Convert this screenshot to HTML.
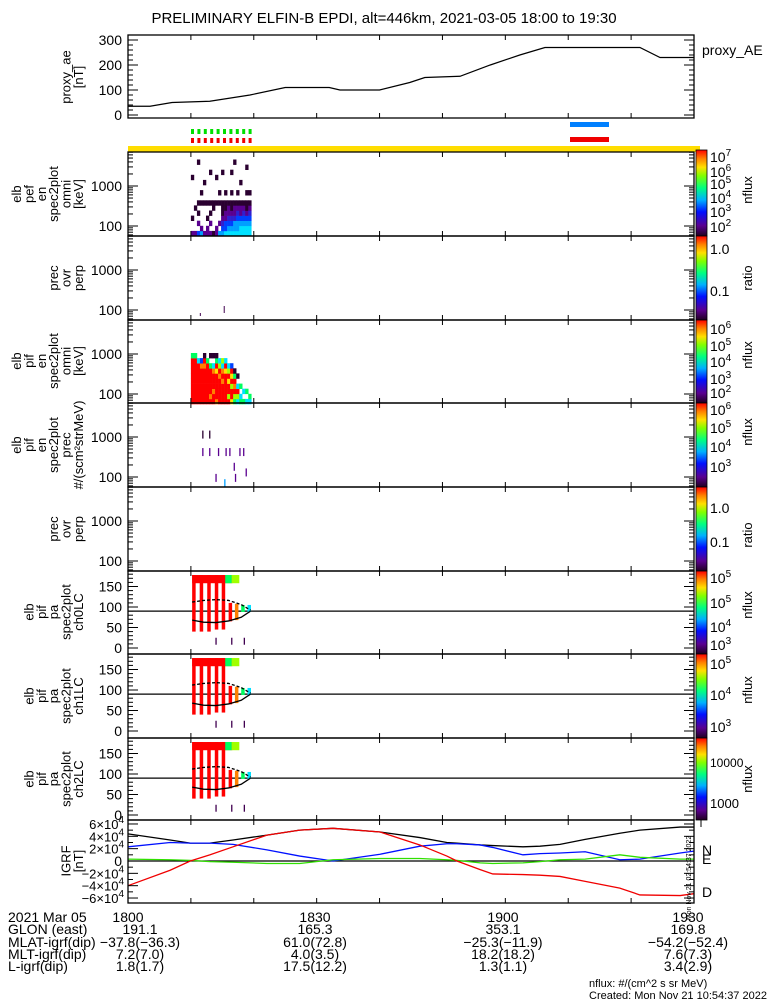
<!DOCTYPE html>
<html><head><meta charset="utf-8"><style>
body{margin:0;background:#fff;}
svg{display:block;font-family:"Liberation Sans",sans-serif;}
text{fill:#000;}
</style></head><body>
<svg id="s" width="775" height="1000" viewBox="0 0 775 1000" xmlns="http://www.w3.org/2000/svg">
<defs>
<linearGradient id="rb" x1="0" y1="1" x2="0" y2="0">
<stop offset="0" stop-color="#200020"/><stop offset="0.12" stop-color="#5a0090"/><stop offset="0.28" stop-color="#0010ff"/><stop offset="0.42" stop-color="#00b0ff"/><stop offset="0.56" stop-color="#00ff80"/><stop offset="0.7" stop-color="#80ff00"/><stop offset="0.8" stop-color="#ffe000"/><stop offset="0.9" stop-color="#ff8000"/><stop offset="1" stop-color="#ff0000"/>
</linearGradient>
</defs>
<text x="384" y="23" font-size="15" text-anchor="middle">PRELIMINARY ELFIN-B EPDI, alt=446km, 2021-03-05 18:00 to 19:30</text>
<g id="g"></g>
</svg>
<script>
// ---- data ----
const aeTimes=[0,3.5,7,13,19.4,25,32,33.7,40,44.8,47.2,52.8,57.6,62.3,66.3,81.4,84.6,90];
const aeValues=[35,35,50,55,80,110,110,100,100,130,150,155,200,240,270,270,230,230];
const bTimes=[0,6.7,9.9,13,16.7,22.1,27.3,32.6,40.1,46.4,50.7,52.3,56,58,62.8,65.5,68.7,72.7,78.2,81.4,87.8,90];
const bTotal=[44,34,29,29,34,42,50,53,47,38,30,29,26,25,23,24,27,35,45,50,55,55];
const bNorth=[23,30,29,29,27,18,8,0,11,24,28,28,26,22,10,12,13,15,2,3,13,16];
const bEast=[3,2,1,-1,-2,-4,-4,2,4,4,2,1,-3,-4,-3,-1,2,3,10,6,3,3];
const bDown=[-40,-15,0,10,23,42,50,53,47,26,8,0,-14,-21,-22,-23,-25,-33,-44,-55,-56,-53];
const pefCols=["1..0.......0....","1....0..........","3.1.0.0.......0.","41....0.0.......","1.....0...0.....","11.0..0.........","1.1.0.0.....0...","0....00.........","11....0....0....","4.1...0.0.......","4321000.....0...","5331100.0.......","5432110.........","5432100.0...0...","5442110.......0.","5443210.0.......","5543110...0.....","5543210.........","5543100.0....0..","5543210.0......."];
const pifCols=["aaaaaaaaa6","aaaaaaaaa6","aaaaaaaa5.","aaaaaaa93.","aaaaaaa9a0","aaaaaaaa6.","a9aaaaa6.0","aa9aaa95.0","9aaaaa8a60","aaaaa9a75.","aaaa9a957.","aaaaaa8a5.","a7aa8a75..","8aa7a8a3..","67a9a60...","57a5.0....","65.6......","6.5.......","5.6.......","56........"];
const colStart=10.0, colWidth=0.48;
const precTimes=[11.9,13.0,11.9,13.0,14.4,15.6,16.2,17.8,18.4,16.9,18.8,14.0,17.1,15.4];
const precEnergy=[1150,1150,420,420,420,420,420,420,420,180,130,95,95,70];
const precLevel=[0,0,1,1,1,1,1,1,1,1,1,1,1,4];
const stripeT=[10.2,11.4,12.6,13.8,14.9,16.0,17.0,18.0,19.0];
const stripeLo=[40,40,40,45,45,65,68,88,88];
const stripeHi=[180,180,180,180,180,110,108,105,105];
const stripeLv=["a","a","a","a","a","a","9","6","5"];
const blockT=[10.2,15.3,15.3,16.5];
const blockT2=[15.3,16.6,16.5,17.7];
const blockLv=["a","9","6","7"];
const lcTimes=[10.2,12,14,16,18,19.5];
const lcLower=[68,63,62,66,75,90];
const lcUpper=[112,116,118,116,106,92];
// ---- scales ----
const X0=128,X1=694;
const xT=t=>X0+t*(X1-X0)/90;
const yE=(top,e)=>top+34+(3-Math.log10(e))*40;
const yPA=(top,p)=>top+77-p*0.41;
const yB=v=>861-v*0.617;
const yA=v=>115-v*0.25;
const cmap={"0":"#2a0030","1":"#5a0090","2":"#3020d0","3":"#0040ff","4":"#00a0ff","5":"#00e0ff","6":"#00ff60","7":"#a0ff00","8":"#ffe000","9":"#ff8000","a":"#ff0000"};
const g=document.getElementById('g');
const NS="http://www.w3.org/2000/svg";
function mk(tag,attrs,parent){const e=document.createElementNS(NS,tag);for(const k in attrs)e.setAttribute(k,attrs[k]);(parent||g).appendChild(e);return e;}
function txt(x,y,s,size,anchor,rot,fill){const e=mk('text',{x:x,y:y,'font-size':size||14,'text-anchor':anchor||'start'});if(rot)e.setAttribute('transform','rotate(-90 '+x+' '+y+')');if(fill)e.setAttribute('fill',fill);e.textContent=s;return e;}
function sup(x,y,base,exp,size,anchor){const e=mk('text',{x:x,y:y,'font-size':size||14,'text-anchor':anchor||'start'});e.textContent=base;const t=mk('tspan',{dy:-6,'font-size':10},e);t.textContent=exp;return e;}
function frame(top,bot,name){const r=mk('rect',{x:X0,y:top,width:X1-X0,height:bot-top,fill:'none',stroke:'#000','stroke-width':1.3});


for(let t=10;t<90;t+=10){mk('line',{x1:xT(t),x2:xT(t),y1:top,y2:top+5,stroke:'#000'});mk('line',{x1:xT(t),x2:xT(t),y1:bot,y2:bot-5,stroke:'#000'});}}
function ylabel(lines,cy,name){const n=lines.length;lines.forEach((s,i)=>{const e=txt(83-(n-1-i)*12.4,cy,s,13,'middle',true);

});}
function logTicks(top,bot){for(const d of [10,100,1000]){for(let m=1;m<10;m++){const e=d*m,y=yE(top,e);if(y<top||y>bot)continue;const L=m==1?10:5;mk('line',{x1:X0,x2:X0+L,y1:y,y2:y,stroke:'#000'});mk('line',{x1:X1,x2:X1-L,y1:y,y2:y,stroke:'#000'});}}
[100,1000].forEach(v=>{const y=yE(top,v);if(y>top&&y<bot)txt(122,y+5,String(v),14,'end');});}
function specPanel(top,cols,rowH){cols.forEach((c,i)=>{for(let r=0;r<c.length;r++){const ch=c[r];if(ch==='.')continue;const x=xT(colStart+i*colWidth);const rc=mk('rect',{x:x,y:top+84-(r+1)*rowH,width:(X1-X0)/90*colWidth+0.3,height:rowH+0.3,fill:cmap[ch]});

}});}
function paPanel(top,bot,label,labelName){
mk('line',{x1:X0,x2:X1,y1:yPA(top,90),y2:yPA(top,90),stroke:'#000','stroke-width':1.2});
blockT.forEach((t,i)=>{const r=mk('rect',{x:xT(t),y:yPA(top,178),width:xT(blockT2[i])-xT(t),height:yPA(top,158)-yPA(top,178),fill:cmap[blockLv[i]]});

});
stripeT.forEach((t,i)=>{const r=mk('rect',{x:xT(t),y:yPA(top,Math.min(stripeHi[i],178)),width:3.5,height:yPA(top,stripeLo[i])-yPA(top,Math.min(stripeHi[i],178)),fill:cmap[stripeLv[i]]});

});
let dl='',du='';lcTimes.forEach((t,i)=>{dl+=(i?'L':'M')+xT(t)+' '+yPA(top,lcLower[i]);du+=(i?'L':'M')+xT(t)+' '+yPA(top,lcUpper[i]);});
const p1=mk('path',{d:dl,fill:'none',stroke:'#000','stroke-width':1.3});


const p2=mk('path',{d:du,fill:'none',stroke:'#000','stroke-width':1.3,'stroke-dasharray':'3,2'});


[14,16.5,18.5].forEach(t=>mk('line',{x1:xT(t),x2:xT(t),y1:yPA(top,8),y2:yPA(top,25),stroke:'#400050','stroke-width':1.3}));
for(let p=0;p<=180;p+=10){const L=p%50==0?10:5;const y=yPA(top,p);if(y<top)continue;mk('line',{x1:X0,x2:X0+L,y1:y,y2:y,stroke:'#000'});mk('line',{x1:X1,x2:X1-L,y1:y,y2:y,stroke:'#000'});}
[0,50,100,150].forEach(p=>txt(122,yPA(top,p)+5,String(p),14,'end'));
frame(top,bot,labelName);}
// ---- AE panel ----
let d='';aeTimes.forEach((t,i)=>d+=(i?'L':'M')+xT(t)+' '+yA(aeValues[i]));
const aeLine=mk('path',{d:d,fill:'none',stroke:'#000','stroke-width':1.2});


frame(35,118,'proxy-ae-panel');
for(let v=0;v<=300;v+=20){const L=v%100==0?10:5;mk('line',{x1:X0,x2:X0+L,y1:yA(v),y2:yA(v),stroke:'#000'});mk('line',{x1:X1,x2:X1-L,y1:yA(v),y2:yA(v),stroke:'#000'});}
[0,100,200,300].forEach(v=>txt(122,yA(v)+5,String(v),14,'end'));
ylabel(['proxy_ae','[nT]'],77,'ae-axis-title');
const aeLeg=txt(702,55,'proxy_AE',14);


for(let i=0;i<10;i++){mk('rect',{x:191+i*6.4,y:129,width:3,height:5,fill:'#00e000'});mk('rect',{x:191+i*6.4,y:138,width:3,height:5,fill:'#f00000'});}
const sb1=mk('rect',{x:570,y:122,width:39,height:5,fill:'#0080ff'});


const sb2=mk('rect',{x:570,y:137,width:39,height:5,fill:'#f00000'});


const yb=mk('rect',{x:X0,y:146,width:X1-X0+6,height:6,fill:'#ffdd00'});


// ---- panels ----
specPanel(152,pefCols,5.1);logTicks(152,236);frame(152,236,'pef-omni-panel');ylabel(['elb','pef','en','spec2plot','omni','[keV]'],194,'pef-axis-title');
logTicks(236,320);frame(236,320,'pef-prec-ratio-panel');ylabel(['prec','ovr','perp'],278,'pef-ratio-axis-title');
mk('line',{x1:xT(11.5),x2:xT(11.5),y1:313,y2:316,stroke:'#400050'});mk('line',{x1:xT(15.3),x2:xT(15.3),y1:306,y2:313,stroke:'#400050'});
specPanel(320,pifCols,5.1);logTicks(320,403);frame(320,403,'pif-omni-panel');ylabel(['elb','pif','en','spec2plot','omni','[keV]'],361,'pif-axis-title');
precTimes.forEach((t,i)=>{const y=yE(403,precEnergy[i]);const l=mk('line',{x1:xT(t),x2:xT(t),y1:y-4,y2:y+4,stroke:cmap[String(precLevel[i])],'stroke-width':1.3});

});
logTicks(403,487);frame(403,487,'pif-prec-panel');ylabel(['elb','pif','en','spec2plot','prec','#/(scm²strMeV)'],445,'pif-prec-axis-title');
logTicks(487,571);frame(487,571,'pif-ratio-panel');ylabel(['prec','ovr','perp'],529,'pif-ratio-axis-title');
paPanel(571,654,'ch0LC','pa-ch0-panel');ylabel(['elb','pif','pa','spec2plot','ch0LC'],612,'ch0-axis-title');
paPanel(654,738,'ch1LC','pa-ch1-panel');ylabel(['elb','pif','pa','spec2plot','ch1LC'],696,'ch1-axis-title');
paPanel(738,820,'ch2LC','pa-ch2-panel');ylabel(['elb','pif','pa','spec2plot','ch2LC'],779,'ch2-axis-title');
// ---- IGRF ----
mk('line',{x1:X0,x2:X1,y1:yB(0),y2:yB(0),stroke:'#000','stroke-width':1.2});
[[bTotal,'#000','igrf-total-line'],[bNorth,'#0010ff','igrf-north-line'],[bEast,'#30e000','igrf-east-line'],[bDown,'#f00000','igrf-down-line']].forEach(([arr,c,n])=>{let dd='';bTimes.forEach((t,i)=>dd+=(i?'L':'M')+xT(t)+' '+yB(arr[i]));const p=mk('path',{d:dd,fill:'none',stroke:c,'stroke-width':1.3});

});
for(let v=-60;v<=60;v+=10){const L=v%20==0?10:5;mk('line',{x1:X0,x2:X0+L,y1:yB(v),y2:yB(v),stroke:'#000'});mk('line',{x1:X1,x2:X1-L,y1:yB(v),y2:yB(v),stroke:'#000'});}
frame(820,903,'igrf-panel');
[60,40,20,-20,-40,-60].forEach(v=>{sup(124,yB(v)+5,(v<0?'−':'')+Math.abs(v/10)+'×10','4',13,'end');});
txt(122,yB(0)+5,'0',14,'end');
ylabel(['IGRF','[nT]'],861,'igrf-axis-title');
txt(702,855,'N',14,'start',false,'#0010ff');txt(702,864,'E',14,'start',false,'#30e000');txt(702,897,'D',14,'start',false,'#f00000');
const ts=txt(691,878,'Mon Nov 21 02:54:37 2022',7,'middle',true);


// ---- colorbars ----
[[150,236],[236,320],[320,403],[403,487],[487,571],[571,654],[654,738],[738,820]].forEach(([a,b])=>{const r=mk('rect',{x:696,y:a,width:11,height:b-a,fill:'url(#rb)',stroke:'#000','stroke-width':0.8});

});
mk('line',{x1:701,x2:701,y1:820,y2:827,stroke:'#000'});
const cbSup=[[157,'7'],[172,'6'],[184,'5'],[198,'4'],[212,'3'],[227,'2'],[329,'6'],[346,'5'],[362,'4'],[379,'3'],[393,'2'],[410,'6'],[428,'5'],[447,'4'],[467,'3'],[578,'5'],[603,'5'],[627,'4'],[645,'3'],[664,'5'],[695,'4'],[727,'3']];
cbSup.forEach(([y,e])=>sup(710,y+5,'10',e,14));
txt(710,254,'1.0',14);txt(710,296,'0.1',14);txt(710,513,'1.0',14);txt(710,547,'0.1',14);
txt(710,767,'10000',12);txt(710,808,'1000',13);
[[190,'nflux'],[278,'ratio'],[355,'nflux'],[432,'nflux'],[535,'ratio'],[605,'nflux'],[690,'nflux'],[779,'nflux']].forEach(([y,s])=>{const e=txt(752,y,s,13,'middle',true);

});
// ---- orbit text ----
const rows=['2021 Mar 05','GLON (east)','MLAT-igrf(dip)','MLT-igrf(dip)','L-igrf(dip)'];
const ys=[922,934,947,959,971];
rows.forEach((s,i)=>txt(8,ys[i],s,14));
const colX=[128,315,503,688];
const colVals=[['1800','191.1','-37.8(-36.3)','7.2(7.0)','1.8(1.7)'],['1830','165.3','61.0(72.8)','4.0(3.5)','17.5(12.2)'],['1900','353.1','-25.3(-11.9)','18.2(18.2)','1.3(1.1)'],['1930','169.8','-54.2(-52.4)','7.6(7.3)','3.4(2.9)']];
colVals.forEach((c,j)=>c.forEach((s,i)=>txt(j==0&&i>0?colX[j]+12:colX[j],ys[i],s.replace(/-/g,'−'),14,'middle')));
txt(589,987,'nflux: #/(cm^2 s sr MeV)',11);
txt(589,999,'Created: Mon Nov 21 10:54:37 2022',11);
</script>
</body></html>
